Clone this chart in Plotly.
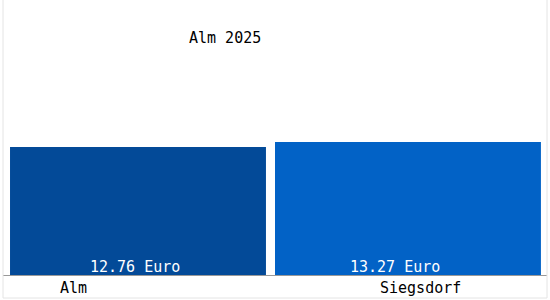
import plotly.graph_objects as go

categories = ["Alm", "Siegsdorf"]
values = [12.76, 13.27]
value_labels = ["12.76 Euro", "13.27 Euro"]
title_text = "Alm 2025"

colors = ["#034A98", "#0262C6"]
FONT = "DejaVu Sans Mono"

fig = go.Figure()
fig.add_trace(go.Bar(
    x=categories, y=values,
    marker=dict(color=colors, line=dict(width=0)),
    width=[0.948, 0.985],
    hoverinfo="skip",
))

annotations = []
label_shift = [-3, -13]
for c, v, lab, sh in zip(categories, values, value_labels, label_shift):
    annotations.append(dict(x=c, y=0, xref="x", yref="y", text=lab, showarrow=False,
                            yanchor="bottom", yshift=-3, xshift=sh,
                            font=dict(family=FONT, size=15, color="white")))
# category labels
label_px = [73, 420]
for c, px in zip(categories, label_px):
    annotations.append(dict(x=(px - 3) / 544, y=(275 - 288) / 275, xref="paper", yref="paper",
                            text=c, showarrow=False, xanchor="center", yanchor="middle",
                            font=dict(family=FONT, size=15, color="black")))
annotations.append(dict(x=(225 - 3) / 544, y=(275 - 38) / 275, xref="paper", yref="paper",
                        text=title_text, showarrow=False, xanchor="center", yanchor="middle",
                        font=dict(family=FONT, size=15, color="black")))

shapes = [
    dict(type="line", xref="paper", yref="paper", x0=0, x1=0, y0=(275 - 298) / 275, y1=1,
         line=dict(color="#e4e4e4", width=1)),
    dict(type="line", xref="paper", yref="paper", x0=1, x1=1, y0=(275 - 298) / 275, y1=1,
         line=dict(color="#e4e4e4", width=1)),
    dict(type="line", xref="paper", yref="paper", x0=0, x1=1, y0=(275 - 298) / 275, y1=(275 - 298) / 275,
         line=dict(color="#e4e4e4", width=1)),
]

fig.update_layout(
    width=550, height=300,
    margin=dict(l=3, r=3, t=0, b=25),
    paper_bgcolor="white", plot_bgcolor="white",
    showlegend=False,
    xaxis=dict(range=[-0.5, 1.515], showticklabels=False, showgrid=False, zeroline=False,
               showline=True, linecolor="#999999", linewidth=1, ticks=""),
    yaxis=dict(range=[0, 27.44], visible=False, showgrid=False, zeroline=False),
    annotations=annotations,
    shapes=shapes,
    font=dict(family=FONT, size=15),
)

fig.write_html("out.html")
